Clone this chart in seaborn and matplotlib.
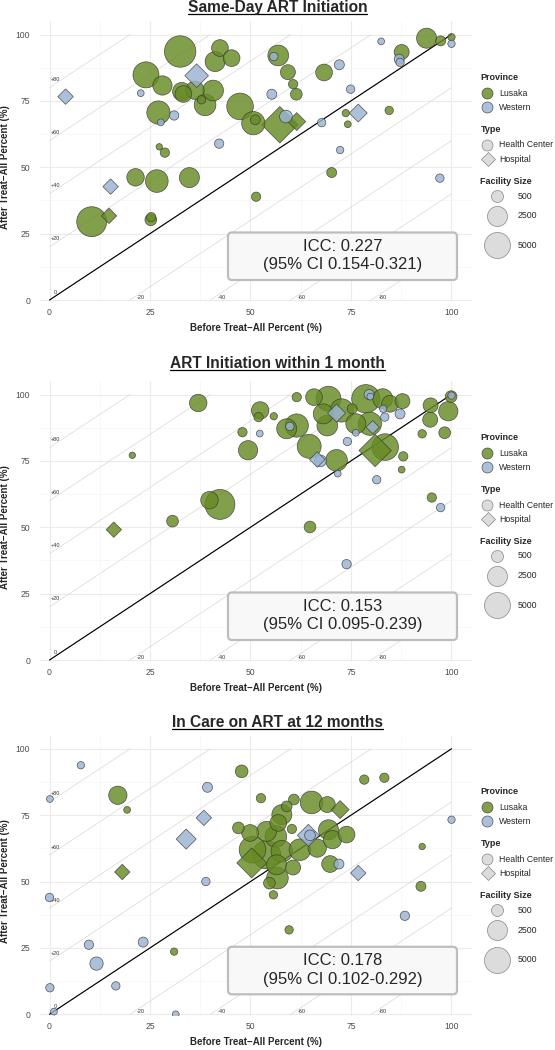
import numpy as np
import pandas as pd
import matplotlib
matplotlib.use("Agg")
import matplotlib.pyplot as plt
import seaborn as sns
from matplotlib.lines import Line2D
from matplotlib.patches import FancyBboxPatch
from matplotlib.ticker import MultipleLocator

# --- Same-Day ART Initiation ---
sd_before = [32.5, 42.4, 45.3, 41.2, 24.0, 28.1, 32.9, 33.3, 36.2, 38.7, 37.8, 40.7, 27.1, 47.4, 50.7,
             51.2, 27.3, 28.7, 21.4, 26.7, 34.8, 51.4, 10.5, 25.2, 25.3, 56.9, 59.3, 60.6, 61.4, 68.3,
             87.6, 93.8, 97.3, 100.0, 73.7, 74.2, 84.5, 70.2,
             14.8, 57.3, 61.5,
             22.7, 31.0, 27.7, 42.2, 55.8, 55.3, 58.8, 72.1, 74.9, 82.5, 87.0, 87.2, 100.0, 67.7, 72.3, 97.1,
             36.6, 15.2, 4.0, 76.8]
sd_after = [93.6, 94.9, 91.1, 89.8, 84.8, 80.8, 78.5, 77.6, 79.0, 73.5, 75.4, 78.9, 70.6, 72.9, 66.6,
            67.9, 57.7, 55.5, 46.2, 44.8, 46.1, 38.9, 29.5, 30.2, 31.2, 92.1, 85.8, 81.3, 77.5, 85.7,
            93.4, 98.6, 97.6, 99.0, 70.4, 66.2, 71.4, 48.0,
            31.7, 66.0, 67.2,
            77.9, 69.5, 66.9, 58.9, 91.7, 77.5, 69.1, 88.6, 79.4, 97.4, 90.7, 89.5, 96.5, 66.8, 56.5, 45.9,
            84.5, 42.7, 76.6, 70.4]
sd_size = [8000, 1500, 1500, 2500, 5000, 2250, 1950, 1500, 1950, 3100, 100, 2750, 3750, 5300, 3750,
           240, 10, 175, 1700, 3500, 2500, 175, 7100, 460, 175, 2750, 1070, 175, 460, 1500,
           1070, 2500, 240, 40, 40, 20, 100, 240,
           350, 4900, 620,
           20, 175, 20, 175, 100, 240, 620, 240, 100, 20, 240, 100, 40, 100, 40, 100,
           1500, 350, 350, 620]
sd_prov = "LLLLLLLLLL LLLLLLLLLL LLLLLLLLLL LLLLLLLLLL L WWWWWWWWWW WWWWWWWWWW"
sd_type = "CCCCCCCCCC CCCCCCCCCC CCCCCCCCCC CCCCCCCC HHH CCCCCCCCCC CCCCCC HHHH"

# --- ART Initiation within 1 month ---
m1_before = [37.0, 20.6, 30.6, 39.8, 42.4, 48.0, 49.4, 52.4, 52.0, 55.8, 61.5, 59.0, 61.5, 64.6, 71.4,
             65.8, 69.4, 68.1, 69.1, 72.7, 75.3, 78.7, 76.2, 79.7, 83.5, 82.9, 84.7, 87.8, 88.0, 87.6,
             94.8, 94.7, 99.2, 99.9, 92.7, 98.3, 95.1, 64.8,
             16.0, 81.0,
             52.3, 59.8, 67.4, 71.7, 79.5, 79.8, 76.2, 74.1, 83.0, 83.4, 87.2, 81.4, 100.0, 97.3, 73.9,
             66.6, 71.4, 80.4]
m1_after = [96.8, 77.1, 52.3, 60.2, 58.6, 85.8, 79.0, 94.0, 91.5, 91.8, 99.0, 87.1, 88.3, 80.5, 75.2,
            99.0, 98.4, 92.7, 88.3, 94.0, 94.6, 98.4, 89.0, 89.0, 80.2, 98.4, 96.5, 97.5, 76.7, 71.7,
            95.9, 90.5, 93.7, 99.2, 85.2, 85.6, 61.2, 50.1,
            49.1, 78.9,
            85.3, 88.0, 75.0, 70.2, 100.0, 99.2, 85.6, 82.3, 94.6, 91.5, 92.7, 67.9, 99.6, 57.4, 36.1,
            75.5, 93.0, 87.7]
m1_size = [1700, 10, 460, 1700, 7100, 175, 2250, 1700, 175, 40, 175, 2500, 3750, 4050, 3100,
           1500, 4500, 2500, 2750, 3750, 240, 6200, 2500, 3750, 5300, 2500, 1500, 1070, 175, 20,
           1070, 1070, 2250, 460, 100, 460, 175, 460,
           350, 3600,
           20, 100, 460, 20, 240, 20, 20, 100, 40, 100, 240, 100, 40, 100, 175,
           350, 620, 180]
m1_prov = "LLLLLLLLLL LLLLLLLLLL LLLLLLLLLL LLLLLLLLLL WWWWWWWWWW WWWWWWWW"
m1_type = "CCCCCCCCCC CCCCCCCCCC CCCCCCCCCC CCCCCCCC HH CCCCCCCCCC CCCCC HHH"

# --- In Care on ART at 12 months ---
m12_before = [17.0, 19.3, 47.8, 52.6, 31.0, 47.0, 54.7, 55.7, 49.9, 78.3, 83.3, 60.8, 65.2, 69.1, 59.0,
              57.8, 56.9, 60.3, 54.0, 56.3, 50.5, 54.0, 57.8, 56.5, 56.7, 60.6, 62.3, 66.6, 69.4, 70.4,
              73.9, 69.8, 92.7, 92.4, 59.6,
              50.3, 72.3, 18.1,
              7.8, 0.1, 39.3, 38.9, 0.0, 9.8, 11.7, 23.3, 16.5, 0.1, 1.1, 31.4, 64.8, 72.0, 88.4, 100.0,
              38.4, 34.0, 64.4, 76.8]
m12_after = [82.5, 77.0, 91.5, 81.4, 23.6, 70.2, 49.4, 45.0, 68.3, 88.4, 89.1, 80.9, 79.8, 79.0, 78.3,
             75.2, 72.1, 69.8, 68.9, 67.0, 62.0, 60.1, 61.4, 56.3, 51.3, 55.3, 62.0, 62.6, 69.5, 65.8,
             67.7, 56.6, 63.2, 48.2, 31.8,
             57.0, 77.1, 53.6,
             93.8, 81.1, 85.5, 50.0, 44.0, 26.2, 19.1, 27.2, 10.7, 10.0, 1.0, 0.0, 67.4, 56.6, 37.1, 73.3,
             74.0, 66.0, 67.4, 53.2]
m12_size = [1950, 20, 620, 175, 40, 460, 460, 100, 1500, 175, 175, 330, 3500, 1300, 330,
            2500, 1500, 175, 2500, 3100, 5300, 6200, 3100, 2500, 3100, 1070, 3100, 1950, 2500, 1950,
            1500, 1500, 10, 240, 100,
            2900, 620, 350,
            40, 20, 240, 100, 100, 175, 720, 240, 100, 100, 20, 20, 330, 240, 175, 40,
            350, 900, 1200, 350]
m12_prov = "LLLLLLLLLL LLLLLLLLLL LLLLLLLLLL LLLLLLLL WWWWWWWWWW WWWWWWWWWW"
m12_type = "CCCCCCCCCC CCCCCCCCCC CCCCCCCCCC CCCCC HHH CCCCCCCCCC CCCCCC HHHH"

titles = ["Same-Day ART Initiation", "ART Initiation within 1 month", "In Care on ART at 12 months"]
icc_labels = ["ICC: 0.227\n(95% CI 0.154-0.321)",
              "ICC: 0.153\n(95% CI 0.095-0.239)",
              "ICC: 0.178\n(95% CI 0.102-0.292)"]
size_breaks = [500, 2500, 5000]

PROV = {"L": "Lusaka", "W": "Western"}
TYPE = {"C": "Health Center", "H": "Hospital"}
palette = {"Lusaka": "#678A24", "Western": "#9AB4D1"}
markers = {"Health Center": "o", "Hospital": "D"}
ALPHA = 0.82
EDGE = "#333333"


def diam_px(v):
    # ggplot-like area scale: diameter grows with sqrt of facility size
    return 5.5 + 0.29 * np.sqrt(v)


def facility_df(before, after, prov, ftype, size):
    prov = prov.replace(" ", "")
    ftype = ftype.replace(" ", "")
    df = pd.DataFrame({"before": before, "after": after,
                       "Province": [PROV[p] for p in prov],
                       "Type": [TYPE[t] for t in ftype],
                       "size": size})
    return df.sort_values("size", ascending=False, kind="stable")


frames = [facility_df(sd_before, sd_after, sd_prov, sd_type, sd_size),
          facility_df(m1_before, m1_after, m1_prov, m1_type, m1_size),
          facility_df(m12_before, m12_after, m12_prov, m12_type, m12_size)]
all_sizes = sorted(set(pd.concat(frames)["size"]))
size_map = {v: (diam_px(v) * 0.72) ** 2 for v in all_sizes}

sns.set_style("white")
plt.rcParams['font.family'] = ['Liberation Sans', 'DejaVu Sans']
plt.rcParams['axes.unicode_minus'] = False

W, H = 555, 1050
fig = plt.figure(figsize=(W / 100, H / 100), dpi=100)
inch = fig.dpi_scale_trans


def P(px, py):
    return px / 100.0, (H - py) / 100.0


X0, XPPU, YPPU = 49.5, 4.02, 2.655
XLIM = (-2.36, 105.1)
YLIM = (-0.8, 104.9)
zero_rows = [300.0, 660.0, 1014.3]
title_base = [11.7, 368.3, 726.7]

title_texts = []
for i, df in enumerate(frames):
    y0 = zero_rows[i]
    left = X0 + XLIM[0] * XPPU
    right = X0 + XLIM[1] * XPPU
    top = y0 - YLIM[1] * YPPU
    bottom = y0 - YLIM[0] * YPPU
    ax = fig.add_axes([left / W, 1 - bottom / H, (right - left) / W, (bottom - top) / H])

    # diagonal difference guides
    for k in range(-80, 81, 20):
        xs, xe = max(0, -k), min(100, 100 - k)
        ax.plot([xs, xe], [xs + k, xe + k], color="#d4d4d4", lw=0.45, zorder=1)
        if k > 0:
            ax.text(0.4, k + 3, f"+{k}", fontsize=4, color="#333333", va="center", ha="left")
        elif k == 0:
            ax.text(1.0, 2.8, "0", fontsize=4, color="#333333", va="center", ha="left")
        else:
            ax.text(-k + 1.8, 1.0, f"-{-k}", fontsize=4, color="#333333", va="center", ha="left")
    ax.plot([0, 100], [0, 100], color="black", lw=0.85, zorder=2)

    sns.scatterplot(data=df, x="before", y="after", hue="Province", style="Type", size="size",
                    hue_order=["Lusaka", "Western"], style_order=["Health Center", "Hospital"],
                    palette=palette, markers=markers, sizes=size_map, alpha=ALPHA,
                    edgecolor=EDGE, linewidth=0.5, legend=False, ax=ax, zorder=3)

    ax.set_xlim(*XLIM)
    ax.set_ylim(*YLIM)
    ax.xaxis.set_major_locator(MultipleLocator(25))
    ax.yaxis.set_major_locator(MultipleLocator(25))
    ax.xaxis.set_minor_locator(MultipleLocator(12.5))
    ax.yaxis.set_minor_locator(MultipleLocator(12.5))
    ax.grid(which="major", color="#ebebeb", lw=0.8)
    ax.grid(which="minor", color="#f5f5f5", lw=0.5)
    ax.set_axisbelow(True)
    for s in ax.spines.values():
        s.set_visible(False)
    ax.tick_params(axis="both", which="both", length=0, labelsize=6.2, labelcolor="#4d4d4d")
    ax.tick_params(axis="x", pad=4.2)
    ax.tick_params(axis="y", pad=7.0)
    ax.set_xlabel("")
    ax.set_ylabel("")

    # axis titles
    fig.text(*P(256, y0 + 28), "Before Treat\u2212All Percent (%)", transform=inch,
             ha="center", va="center", fontsize=7, weight="bold")
    fig.text(*P(5.5, y0 - 133), "After Treat\u2212All Percent (%)", transform=inch,
             ha="center", va="center", fontsize=7, weight="bold", rotation=90)

    # panel title
    t = fig.text(*P(277.5, title_base[i]), titles[i], transform=inch,
                 ha="center", va="baseline", fontsize=11.2, weight="bold")
    title_texts.append((t, title_base[i]))

    # ICC box
    bx0, bx1 = 228.0, 457.0
    by0, by1 = y0 - 67.5, y0 - 20.0
    r = 4.0
    box = FancyBboxPatch(P(bx0 + r, by1 - r), (bx1 - bx0 - 2 * r) / 100, (by1 - by0 - 2 * r) / 100,
                         boxstyle=f"round,pad={r / 100},rounding_size={r / 100}",
                         transform=inch, fc="#f8f8f8", ec="#bdbdbd", lw=1.6, zorder=5)
    fig.add_artist(box)
    fig.text(*P(342.5, y0 - 44.5), icc_labels[i], transform=inch, ha="center", va="center",
             fontsize=12, linespacing=1.32, zorder=6)

    # legends
    o = y0 - 300.0

    def head(y, s):
        fig.text(*P(480.5, y + o), s, transform=inch, ha="left", va="center",
                 fontsize=6.5, weight="bold")

    def item(xk, xl, y, marker, d_px, fc, ec, a, s):
        fig.add_artist(Line2D(*[[c] for c in P(xk, y + o)], transform=inch, marker=marker,
                              ms=d_px * 0.72, mfc=fc, mec=ec, mew=0.5, alpha=a, ls="none"))
        fig.text(*P(xl, y + o), s, transform=inch, ha="left", va="center", fontsize=6.3)

    head(77.7, "Province")
    item(487.3, 499, 93, "o", 11, palette["Lusaka"], EDGE, ALPHA, "Lusaka")
    item(487.3, 499, 107, "o", 11, palette["Western"], EDGE, ALPHA, "Western")
    head(129.3, "Type")
    item(487.3, 499, 145, "o", 11, "#d9d9d9", "#7a7a7a", 0.9, "Health Center")
    item(487.6, 499, 159, "D", 10.1, "#d9d9d9", "#7a7a7a", 0.9, "Hospital")
    head(181, "Facility Size")
    for yy, v in zip([196, 216, 245.3], size_breaks):
        item(497, 518, yy, "o", diam_px(v), "#d9d9d9", "#7a7a7a", 0.9, str(v))

# underline the panel titles
fig.canvas.draw()
renderer = fig.canvas.get_renderer()
for t, base in title_texts:
    bb = t.get_window_extent(renderer)
    yl = (H - (base + 2.0)) / 100.0
    fig.add_artist(Line2D([bb.x0 / 100, bb.x1 / 100], [yl, yl], transform=inch,
                          color="black", lw=0.9))

fig.savefig("out.png", dpi=100)
